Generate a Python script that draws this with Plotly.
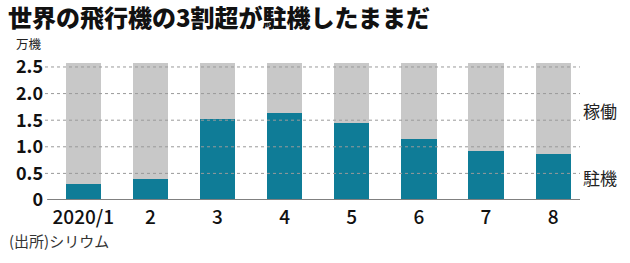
import plotly.graph_objects as go

months = ["2020/1", "2", "3", "4", "5", "6", "7", "8"]
parked = [0.30, 0.39, 1.53, 1.64, 1.45, 1.14, 0.92, 0.86]
operating = [2.28, 2.19, 1.05, 0.94, 1.13, 1.44, 1.66, 1.72]
yticks = [0, 0.5, 1.0, 1.5, 2.0, 2.5]
ytick_labels = ["0", "0.5", "1.0", "1.5", "2.0", "2.5"]

FONT = "Noto Sans CJK JP"
TEAL = "#0f7c97"
GRAY = "#c8c8c8"

W, H = 630, 263
L, R, T, B = 45, 50, 59, 63
PW, PH = W - L - R, H - T - B

fig = go.Figure()
fig.add_trace(go.Bar(x=months, y=parked, marker_color=TEAL, marker_line_width=0, name="駐機"))
fig.add_trace(go.Bar(x=months, y=operating, marker_color=GRAY, marker_line_width=0, name="稼働"))

shapes = []
for v in yticks[1:]:
    shapes.append(dict(type="line", xref="paper", yref="y", x0=0, x1=1, y0=v, y1=v,
                       line=dict(color="#9a9a9a", width=1, dash="3px,3px"), layer="above"))
shapes.append(dict(type="line", xref="paper", yref="y", x0=0.004, x1=1, y0=0, y1=0,
                   line=dict(color="#808080", width=2), layer="above"))

fig.update_layout(
    width=W, height=H,
    margin=dict(l=L, r=R, t=T, b=B, pad=0),
    barmode="stack",
    bargap=0.475,
    showlegend=False,
    plot_bgcolor="white",
    paper_bgcolor="white",
    font=dict(family=FONT, color="#1a1a1a"),
    shapes=shapes,
    title=dict(text="世界の飛行機の3割超が駐機したままだ",
               x=8 / W, xanchor="left", xref="container",
               y=1 - 18.5 / H, yanchor="middle", yref="container",
               font=dict(size=24, family=FONT, color="#111111", weight=900)),
    xaxis=dict(range=[-0.57, 7.4], showgrid=False, showline=False, ticks="",
               ticklabelstandoff=4,
               tickfont=dict(size=19, family=FONT, color="#111111", weight=500)),
    yaxis=dict(range=[0, 2.65], tickvals=yticks, ticktext=ytick_labels,
               showgrid=False, zeroline=False, showline=False, ticks="",
               ticklabelstandoff=1,
               tickfont=dict(size=18, family=FONT, color="#111111", weight="bold")),
    annotations=[
        dict(text="万機", xref="paper", yref="paper", x=(14 - L) / PW,
             y=1 + 15.5 / PH, xanchor="left", yanchor="middle", showarrow=False,
             font=dict(size=12.5, family=FONT, color="#222222")),
        dict(text="稼働", xref="paper", yref="y", x=1 + 1 / PW, y=1.69,
             xanchor="left", yanchor="middle", showarrow=False,
             font=dict(size=17, family=FONT, color="#222222")),
        dict(text="駐機", xref="paper", yref="y", x=1 + 1 / PW, y=0.43,
             xanchor="left", yanchor="middle", showarrow=False,
             font=dict(size=17, family=FONT, color="#222222")),
        dict(text="(出所)シリウム", xref="paper", yref="paper",
             x=(7 - L) / PW, y=-40 / PH,
             xanchor="left", yanchor="middle", showarrow=False,
             font=dict(size=15, family=FONT, color="#333333")),
    ],
)

fig.write_html("out.html")
